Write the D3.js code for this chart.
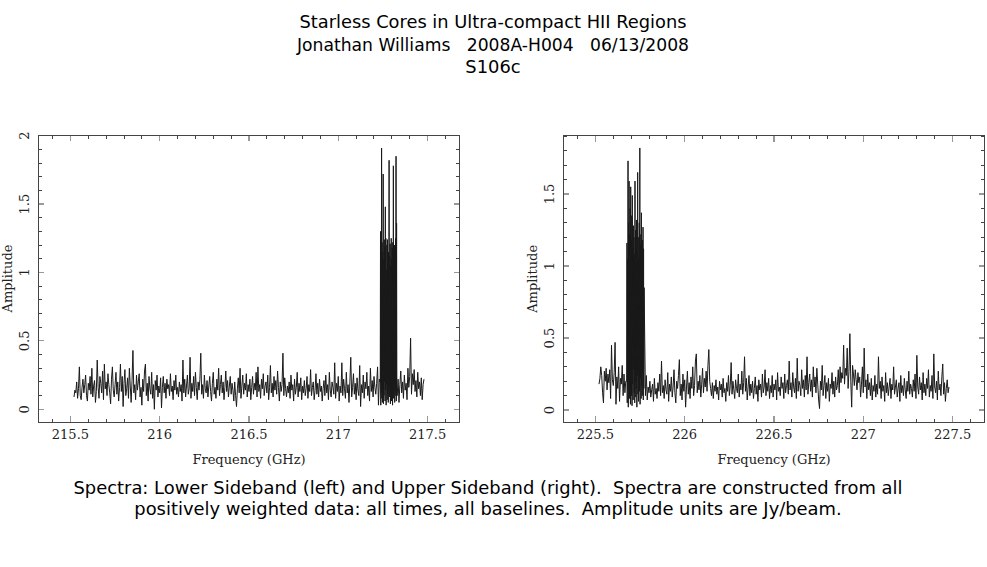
<!DOCTYPE html>
<html>
<head>
<meta charset="utf-8">
<script src="https://cdn.jsdelivr.net/npm/d3@7"></script>
<style>
  html, body { margin: 0; padding: 0; background: #fff; }
  svg { display: block; }
  text { white-space: pre; }
</style>
</head>
<body>
<div id="chart"></div>
<script>
// ---------------- data ----------------
const titleLines = [
  "Starless Cores in Ultra-compact HII Regions",
  "Jonathan Williams   2008A-H004   06/13/2008",
  "S106c"
];
const captionLines = [
  "Spectra: Lower Sideband (left) and Upper Sideband (right).  Spectra are constructed from all",
  "positively weighted data: all times, all baselines.  Amplitude units are Jy/beam."
];
const xLabel = "Frequency (GHz)";
const yLabel = "Amplitude";

// channel grids (GHz)
const chanWidth = 0.005;       // continuum channels
const lineChanWidth = 0.0015;  // finely sampled line window

// ---- Lower sideband (Jy/beam) ----
const lsbPreStart = 215.52;
const lsbPre = [
 .09,.14,.12,.20,.08,.15,.31,.10,.07,.16,.22,.12,.18,.25,.10,.06,.19,.14,.24,.11,
 .30,.09,.17,.21,.05,.13,.36,.16,.08,.24,.19,.12,.28,.07,.33,.15,.20,.10,.26,.18,
 .12,.04,.22,.31,.14,.09,.18,.27,.11,.20,.06,.16,.33,.13,.24,.02,.19,.29,.10,.15,
 .23,.08,.30,.17,.05,.21,.43,.12,.18,.07,.25,.14,.20,.26,.09,.16,.03,.22,.13,.28,
 .33,.10,.19,.06,.24,.15,.11,.27,.08,.18,.00,.21,.14,.25,.09,.17,.12,.23,.01,.16,
 .24,.12,.19,.08,.22,.15,.18,.10,.26,.13,.17,.07,.21,.14,.25,.11,.16,.09,.20,.13,
 .18,.06,.36,.12,.22,.09,.17,.25,.11,.15,.38,.08,.19,.13,.24,.10,.27,.16,.07,.20,
 .14,.22,.41,.11,.18,.08,.25,.15,.12,.21,.09,.17,.24,.13,.06,.19,.27,.11,.16,.08,
 .22,.14,.30,.10,.18,.25,.12,.20,.07,.16,.28,.13,.21,.09,.17,.24,.11,.19,.14,.06,
 .20,.10,.02,.15,.23,.12,.30,.08,.17,.25,.11,.19,.14,.26,.09,.18,.13,.22,.07,.16,
 .24,.11,.19,.14,.27,.09,.31,.13,.18,.08,.22,.15,.26,.10,.17,.20,.12,.25,.07,.16,
 .32,.12,.19,.09,.24,.14,.21,.11,.28,.16,.06,.20,.13,.18,.41,.10,.23,.15,.09,.17,
 .12,.20,.08,.25,.14,.18,.06,.22,.11,.16,.27,.09,.19,.13,.23,.07,.17,.12,.21,.10,
 .15,.24,.08,.18,.13,.29,.10,.16,.20,.07,.14,.26,.11,.19,.09,.22,.13,.17,.06,.15,
 .21,.10,.25,.12,.18,.07,.27,.14,.09,.20,.16,.11,.34,.08,.19,.13,.24,.06,.17,.12,
 .34,.10,.22,.15,.08,.27,.12,.18,.05,.20,.38,.09,.16,.26,.11,.19,.07,.23,.14,.10,
 .32,.02,.18,.12,.25,.08,.20,.15,.27,.10,.17,.06,.30,.13,.21,.09,.24,.16,.11,.19,.31,.03,.22
];
const lsbLineStart = 217.235;
const lsbLine = [
 .20,1.30,.03,1.05,.12,1.91,.08,1.22,.05,1.15,.15,1.72,.04,1.10,.10,1.24,.20,1.18,.06,1.48,
 .14,1.25,.03,1.02,.18,1.20,.07,1.24,.11,1.08,.05,1.15,.16,1.82,.09,1.12,.22,1.21,.04,1.05,
 .13,1.25,.06,1.10,.17,1.18,.03,1.22,.12,1.78,.08,1.14,.19,1.20,.05,1.06,.14,1.25,.10,1.85,
 .06,1.36,.15
];
const lsbPostStart = 217.33;
const lsbPost = [
 .10,.22,.05,.18,.28,.12,.20,.08,.25,.14,.19,.07,.30,.16,.24,.52,.11,.26,.18,.29,
 .13,.21,.09,.27,.15,.20,.10,.23,.07,.18,.22
];

// ---- Upper sideband (Jy/beam) ----
const usbPreStart = 225.52;
const usbPre = [
 .18,.22,.30,.24,.12,.05,.27,.20,.29,.14,.25,.19,.28,.08,.45,.21,.17,.26,.47,.04,
 .23,.15,.30,.06,.22,.18,.31,.10,.25,.12,.20
];
const usbLineStart = 225.675;
const usbLine = [
 .20,1.16,.05,1.05,.14,1.73,.02,1.30,.22,1.59,.08,1.22,.16,1.40,.04,1.55,.25,1.18,.10,1.35,
 .03,1.49,.18,1.12,.07,1.28,.28,1.20,.12,1.08,.05,1.59,.20,1.25,.09,1.14,.15,1.32,.02,1.10,
 .24,1.65,.11,1.20,.06,1.05,.19,1.30,.13,1.82,.04,1.15,.22,1.22,.08,1.37,.17,1.08,.10,1.18,
 .26,1.27,.07,1.12,.15,.85
];
const usbPostStart = 225.78;
const usbPost = [
 .10,.24,.07,.16,.12,.20,.09,.14,.18,.06,.22,.11,.15,.08,.19,.13,.25,.10,.34,.12,
 .17,.08,.21,.14,.11,.26,.06,.18,.13,.23,.09,.16,.28,.12,.05,.20,.15,.24,.35,.10,
 .18,.07,.25,.13,.21,.02,.16,.27,.11,.19,.08,.23,.15,.30,.10,.17,.34,.39,.12,.20,
 .14,.24,.09,.18,.29,.12,.22,.16,.27,.13,.31,.42,.20,.15,.10,.19,.08,.17,.13,.21,
 .11,.16,.07,.20,.14,.18,.09,.22,.12,.15,.06,.19,.13,.24,.10,.17,.33,.11,.20,.14,
 .08,.21,.15,.12,.25,.09,.18,.14,.27,.11,.19,.37,.13,.22,.07,.16,.24,.10,.18,.12,
 .20,.08,.15,.23,.11,.17,.06,.21,.14,.18,.09,.25,.12,.16,.28,.10,.19,.13,.22,.08,
 .17,.12,.24,.09,.18,.14,.21,.07,.26,.13,.16,.10,.23,.15,.19,.08,.25,.12,.17,.21,
 .11,.34,.14,.19,.09,.26,.16,.12,.22,.08,.36,.13,.20,.17,.10,.28,.15,.21,.09,.24,
 .14,.37,.11,.19,.25,.13,.21,.09,.30,.16,.23,.12,.29,.18,.07,.01,.20,.14,.31,.10,
 .17,.24,.08,.19,.13,.22,.06,.18,.15,.26,.11,.20,.09,.23,.14,.17,.28,.12,.30,.19,
 .26,.22,.45,.18,.29,.24,.43,.15,.27,.53,.20,.02,.31,.25,.17,.28,.21,.14,.26,.19,
 .23,.09,.18,.30,.12,.43,.16,.21,.08,.25,.14,.19,.10,.22,.07,.17,.13,.24,.09,.18,
 .11,.37,.15,.20,.08,.23,.13,.17,.06,.26,.12,.19,.10,.16,.22,.08,.18,.14,.30,.11,
 .16,.21,.09,.15,.19,.06,.24,.12,.17,.10,.22,.14,.08,.20,.13,.27,.11,.18,.15,.09,
 .21,.13,.25,.08,.38,.16,.11,.23,.14,.19,.07,.26,.12,.18,.10,.22,.15,.28,.09,.17,
 .13,.24,.08,.39,.16,.12,.20,.07,.27,.14,.18,.10,.23,.32,.11,.19,.06,.15,.21,.12,
 .16
];

const lsbXTicks = [215.5, 216, 216.5, 217, 217.5];
const usbXTicks = [225.5, 226, 226.5, 227, 227.5];
const lsbYTicks = [0, 0.5, 1, 1.5, 2];
const usbYTicks = [0, 0.5, 1, 1.5];

// build (freq, amp) channel lists from the segments
function channels(segments) {
  const out = [];
  segments.forEach(([start, width, amps]) => {
    amps.forEach((a, i) => out.push({ f: start + i * width, a }));
  });
  return out;
}
const lsbSpectrum = channels([
  [lsbPreStart, chanWidth, lsbPre],
  [lsbLineStart, lineChanWidth, lsbLine],
  [lsbPostStart, chanWidth, lsbPost]
]);
const usbSpectrum = channels([
  [usbPreStart, chanWidth, usbPre],
  [usbLineStart, lineChanWidth, usbLine],
  [usbPostStart, chanWidth, usbPost]
]);

// ---------------- layout ----------------
const W = 987, H = 567;
const svg = d3.select("#chart").append("svg")
  .attr("width", W).attr("height", H)
  .attr("viewBox", `0 0 ${W} ${H}`);

svg.append("rect").attr("width", W).attr("height", H).attr("fill", "#fff");

const sansFont = "'DejaVu Sans', Verdana, sans-serif";
const serifFont = "'DejaVu Serif', 'Liberation Serif', serif";

// rendered widths of the first two title lines in the reference
const titleWidths = [387, 392, null];

const titleText = svg.append("g").selectAll("text").data(titleLines).join("text")
  .attr("x", 493).attr("y", (d, i) => 28 + i * 22.5)
  .attr("text-anchor", "middle")
  .attr("font-family", sansFont).attr("font-size", 17.9)
  .attr("fill", "#000")
  .text(d => d);
titleText.filter((d, i) => titleWidths[i] != null)
  .attr("textLength", (d) => titleWidths[titleLines.indexOf(d)])
  .attr("lengthAdjust", "spacingAndGlyphs");

svg.append("g").selectAll("text").data(captionLines).join("text")
  .attr("x", 488).attr("y", (d, i) => 494 + i * 21)
  .attr("text-anchor", "middle")
  .attr("font-family", sansFont).attr("font-size", 17.9)
  .attr("fill", "#000")
  .text(d => d);

const panels = [
  { left: 38.3, right: 459.7, top: 135, bottom: 422,
    xDomain: [215.32, 217.68], yDomain: [-0.093, 2.005],
    data: lsbSpectrum, xTicks: lsbXTicks, yTicks: lsbYTicks },
  { left: 563.3, right: 984.7, top: 135.7, bottom: 422,
    xDomain: [225.32, 227.68], yDomain: [-0.083, 1.905],
    data: usbSpectrum, xTicks: usbXTicks, yTicks: usbYTicks }
];

panels.forEach(p => {
  const x = d3.scaleLinear().domain(p.xDomain).range([p.left, p.right]);
  const y = d3.scaleLinear().domain(p.yDomain).range([p.bottom, p.top]);
  const g = svg.append("g");

  // minor tick positions (0.1 spacing)
  const xMinor = d3.range(Math.ceil(p.xDomain[0] * 10), Math.floor(p.xDomain[1] * 10) + 1)
    .map(v => v / 10).filter(v => !p.xTicks.some(t => Math.abs(t - v) < 1e-6));
  const yMinor = d3.range(Math.ceil(p.yDomain[0] * 10), Math.floor(p.yDomain[1] * 10) + 1)
    .map(v => v / 10).filter(v => !p.yTicks.some(t => Math.abs(t - v) < 1e-6));

  const majorLen = 6, minorLen = 3.5;
  const tickG = g.append("g").attr("shape-rendering", "crispEdges");
  [[p.bottom, -1], [p.top, 1]].forEach(([yy, dir]) => {
    tickG.selectAll(null).data(xMinor).join("line")
      .attr("x1", d => x(d)).attr("x2", d => x(d))
      .attr("y1", yy).attr("y2", yy + dir * minorLen)
      .attr("stroke", "#444").attr("stroke-width", 1);
    tickG.selectAll(null).data(p.xTicks).join("line")
      .attr("x1", d => x(d)).attr("x2", d => x(d))
      .attr("y1", yy).attr("y2", yy + dir * majorLen)
      .attr("stroke", "#999").attr("stroke-width", 1.2);
  });
  [[p.left, 1], [p.right, -1]].forEach(([xx, dir]) => {
    tickG.selectAll(null).data(yMinor).join("line")
      .attr("y1", d => y(d)).attr("y2", d => y(d))
      .attr("x1", xx).attr("x2", xx + dir * minorLen)
      .attr("stroke", "#444").attr("stroke-width", 1);
    tickG.selectAll(null).data(p.yTicks).join("line")
      .attr("y1", d => y(d)).attr("y2", d => y(d))
      .attr("x1", xx).attr("x2", xx + dir * majorLen)
      .attr("stroke", "#999").attr("stroke-width", 1.2);
  });

  // spectrum
  const line = d3.line().x(d => x(d.f)).y(d => y(d.a));
  g.append("path")
    .datum(p.data)
    .attr("d", line)
    .attr("fill", "none")
    .attr("stroke", "#1a1a1a")
    .attr("stroke-width", 1)
    .attr("stroke-linejoin", "miter");

  // frame
  g.append("rect")
    .attr("x", p.left).attr("y", p.top)
    .attr("width", p.right - p.left).attr("height", p.bottom - p.top)
    .attr("fill", "none").attr("stroke", "#444").attr("stroke-width", 1)
    .attr("shape-rendering", "crispEdges");

  // x tick labels
  g.append("g").selectAll("text").data(p.xTicks).join("text")
    .attr("x", d => x(d)).attr("y", p.bottom + 17)
    .attr("text-anchor", "middle")
    .attr("font-family", serifFont).attr("font-size", 13)
    .attr("fill", "#222")
    .text(d => String(d));

  // y tick labels (rotated)
  g.append("g").selectAll("text").data(p.yTicks).join("text")
    .attr("transform", d => `translate(${p.left - 9},${y(d)}) rotate(-90)`)
    .attr("text-anchor", "middle")
    .attr("font-family", serifFont).attr("font-size", 13)
    .attr("fill", "#222")
    .text(d => String(d));

  // axis titles
  g.append("text")
    .attr("x", (p.left + p.right) / 2).attr("y", p.bottom + 42)
    .attr("text-anchor", "middle")
    .attr("font-family", serifFont).attr("font-size", 13)
    .attr("fill", "#222")
    .text(xLabel);
  g.append("text")
    .attr("transform", `translate(${p.left - 26},${(p.top + p.bottom) / 2}) rotate(-90)`)
    .attr("text-anchor", "middle")
    .attr("font-family", serifFont).attr("font-size", 13)
    .attr("fill", "#222")
    .text(yLabel);
});
</script>
</body>
</html>
